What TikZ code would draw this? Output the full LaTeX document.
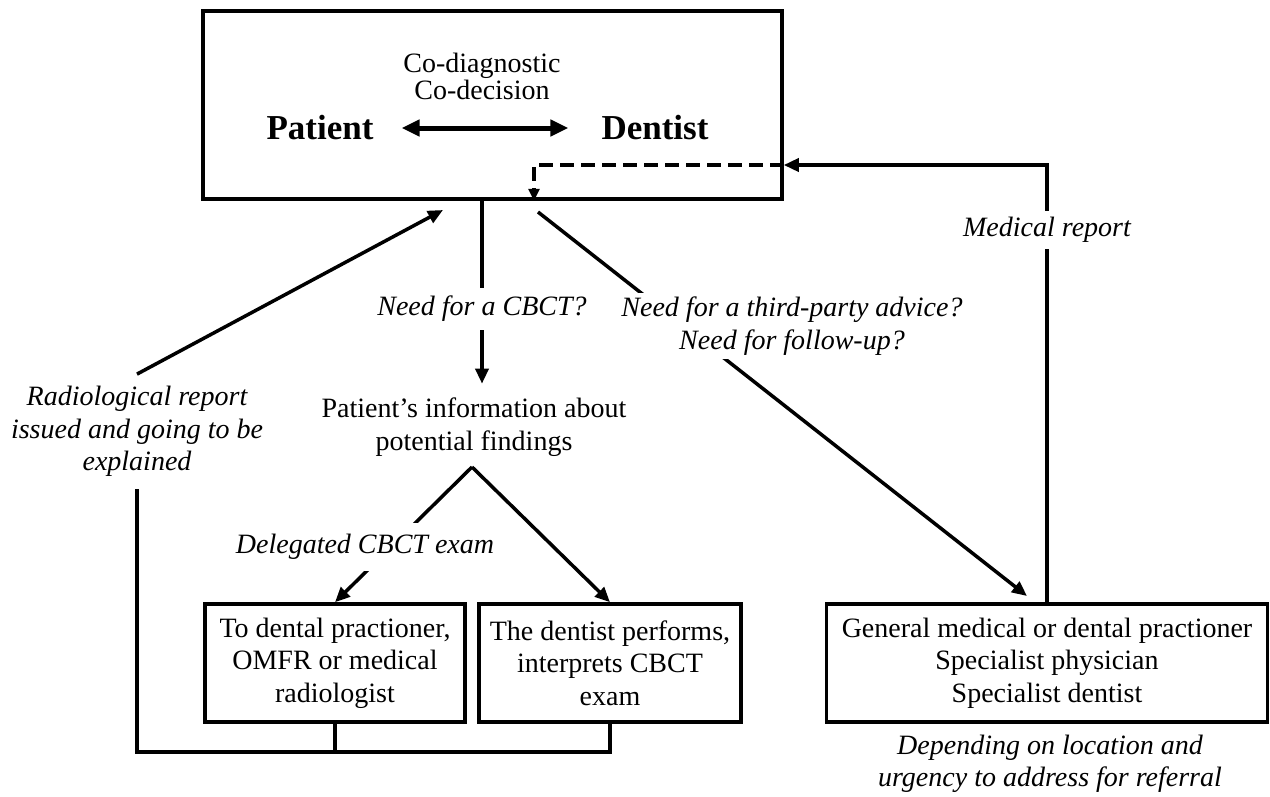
\documentclass[tikz,border=0pt]{standalone}
\usepackage{fontspec}
\setmainfont{Liberation Serif}
\usetikzlibrary{arrows.meta}
\begin{document}
\begin{tikzpicture}[x=1pt,y=-1pt,
  every node/.style={font=\fontsize{28}{32.5}\selectfont, inner sep=0pt, align=center},
  boxnode/.style={draw, line width=3.5pt, inner sep=0pt},
  conn/.style={line width=3.5pt},
  arr/.style={conn, -{Triangle[length=15pt,width=13pt]}},
  lbl/.style={font=\fontsize{28}{32.5}\selectfont\itshape, fill=white},
  big/.style={font=\fontsize{35}{40}\selectfont\bfseries},
]
\useasboundingbox (0,0) rectangle (1270,796);

% boxes
\node[boxnode, minimum width=579pt, minimum height=188pt] (top) at (492.5,105) {};
\node[boxnode, minimum width=260pt, minimum height=118pt] (left) at (335,663)
  {To dental practioner,\\OMFR or medical\\radiologist};
\node[boxnode, minimum width=262pt, minimum height=118pt] (mid) at (610,663)
  {The dentist performs,\\interprets CBCT\\exam};
\node[boxnode, minimum width=441pt, minimum height=118pt] (right) at (1047,663)
  {General medical or dental practioner\\Specialist physician\\Specialist dentist};

% inside top box
\node[font=\fontsize{28}{27}\selectfont] (codiag) at (482,76) {Co-diagnostic\\Co-decision};
\node[big] (patient) at (320,128) {Patient};
\node[big] (dentist) at (655,128) {Dentist};
\draw[line width=5pt, {Triangle[length=18pt,width=16pt]}-{Triangle[length=18pt,width=16pt]},
  shorten <=28pt, shorten >=33pt] (patient.east) -- (dentist.west);

% texts
\node (info) at (474,427) {Patient’s information about\\potential findings};
\node[lbl, inner xsep=4pt, inner ysep=8pt] (cbct) at (482,309) {Need for a CBCT?};
\node[lbl, inner xsep=6pt, inner ysep=12pt] (rad) at (137,431.5)
  {Radiological report\\issued and going to be\\explained};
\node[font=\fontsize{28}{32.5}\selectfont\itshape] (depend) at (1050,764)
  {Depending on location and\\urgency to address for referral};

% coordinates
\coordinate (peak) at (472,467);
\coordinate (dcorner) at (534,165);
\coordinate (radin) at (443,210);
\coordinate (tpstart) at (538,212);
\coordinate (tpend) at (1027,596);
\coordinate (bl) at (137,752);

% connectors
\draw[conn] (top.south -| cbct.north) -- (cbct.north);
\draw[arr, shorten >=14pt] (cbct.south) -- (cbct.south |- info.north);
\draw[arr] (peak) -- (mid.north);
\draw[arr] (peak) -- (left.north);
\draw[conn] (left.south) -- (left.south |- bl);
\draw[conn] (mid.south) -- (mid.south |- bl) -- (bl) -- (rad.south);
\draw[arr] (rad.north) -- (radin);
\draw[arr] (tpstart) -- (tpend);
\draw[arr] (right.north) |- (top.east |- dcorner);
\draw[conn, dash pattern=on 14pt off 7pt, -{Triangle[length=12pt,width=11pt]}]
  (top.east |- dcorner) -- (dcorner) -- (top.south -| dcorner);

% labels masking lines
\node[lbl, inner xsep=4pt, inner ysep=11pt] (deleg) at (365,547) {Delegated CBCT exam};
\node[lbl, inner sep=4pt] (third) at (792,326) {Need for a third-party advice?\\Need for follow-up?};
\node[lbl, inner sep=6pt] (medrep) at (1047,230) {Medical report};
\end{tikzpicture}
\end{document}
